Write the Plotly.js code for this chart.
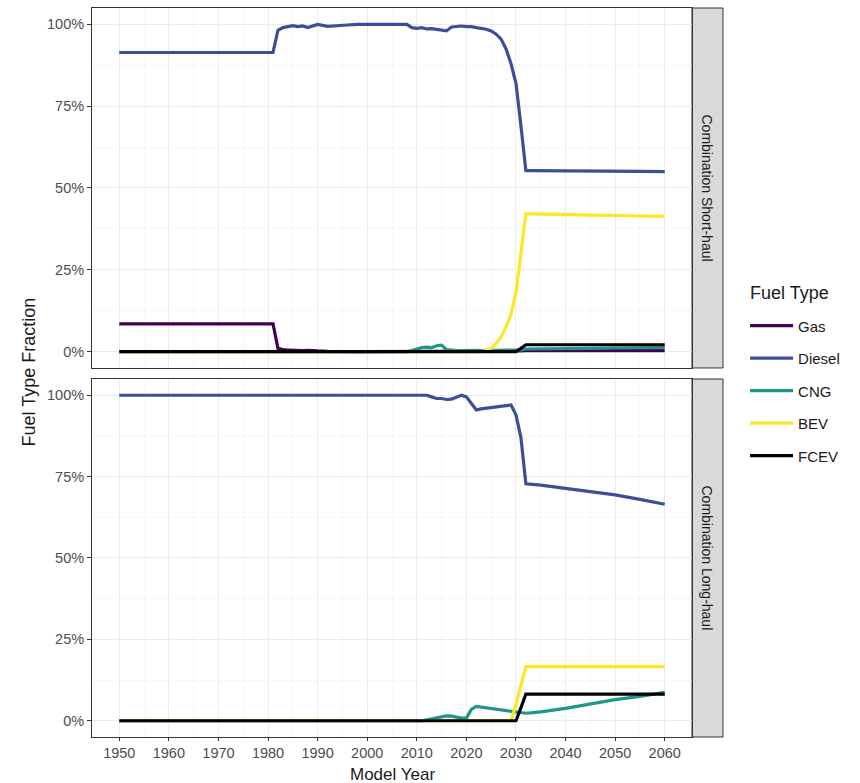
<!DOCTYPE html>
<html>
<head>
<meta charset="utf-8">
<script src="https://cdn.plot.ly/plotly-3.0.1.min.js"></script>
<style>html,body{margin:0;padding:0;background:#fff;}#chart{width:860px;height:783px;}</style>
</head>
<body>
<div id="chart"></div>
<script>
const years = [1950,1960,1970,1981,1982,1983,1984,1985,1986,1987,1988,1989,1990,1992,1994,1996,1998,2000,2002,2004,2006,2008,2009,2010,2011,2012,2013,2014,2015,2016,2017,2018,2019,2020,2021,2022,2023,2024,2025,2026,2027,2028,2029,2030,2031,2032,2033,2035,2040,2045,2050,2055,2060];

const fuelTypes = ["Gas","Diesel","CNG","BEV","FCEV"];
const panels = ["Combination Short-haul","Combination Long-haul"];

// Combination Short-haul
const shortGas    = [0.085,0.085,0.085,0.085,0.010,0.006,0.005,0.004,0.005,0.003,0.004,0.002,0.002,0.001,0,0,0,0,0,0,0,0,0,0,0,0,0,0,0,0,0,0,0,0,0,0,0,0,0,0,0,0,0,0,0.002,0.003,0.003,0.003,0.003,0.003,0.003,0.003,0.003];
const shortDiesel = [0.914,0.914,0.914,0.914,0.982,0.990,0.993,0.996,0.993,0.995,0.990,0.996,1.000,0.994,0.997,0.998,1.000,1.000,1.000,1.000,1.000,1.000,0.990,0.988,0.990,0.986,0.987,0.985,0.984,0.980,0.992,0.993,0.995,0.993,0.993,0.990,0.988,0.985,0.980,0.970,0.955,0.925,0.880,0.820,0.690,0.553,0.553,0.553,0.553,0.552,0.551,0.551,0.550];
const shortCNG    = [0,0,0,0,0,0,0,0,0,0,0,0,0,0,0,0,0,0,0,0,0,0,0.003,0.008,0.012,0.014,0.012,0.018,0.020,0.006,0.004,0.003,0.003,0.004,0.004,0.004,0.003,0.003,0.003,0.003,0.003,0.003,0.003,0.003,0.005,0.008,0.008,0.008,0.009,0.010,0.011,0.011,0.012];
const shortBEV    = [0,0,0,0,0,0,0,0,0,0,0,0,0,0,0,0,0,0,0,0,0,0,0,0,0,0,0,0,0,0,0,0,0,0,0,0,0,0.003,0.010,0.025,0.045,0.075,0.115,0.180,0.300,0.421,0.421,0.420,0.419,0.417,0.416,0.415,0.413];
const shortFCEV   = [0,0,0,0,0,0,0,0,0,0,0,0,0,0,0,0,0,0,0,0,0,0,0,0,0,0,0,0,0,0,0,0,0,0,0,0,0,0,0,0,0,0,0,0,0.010,0.021,0.021,0.021,0.021,0.021,0.021,0.021,0.021];

// Combination Long-haul (no gas line is visible in this panel)
const longDiesel  = [1,1,1,1,1,1,1,1,1,1,1,1,1,1,1,1,1,1,1,1,1,1,1,1,1,1,0.995,0.990,0.990,0.987,0.988,0.995,1.000,0.995,0.975,0.955,0.958,0.960,0.963,0.965,0.966,0.968,0.970,0.940,0.870,0.728,0.727,0.724,0.714,0.705,0.694,0.680,0.665];
const longCNG     = [0,0,0,0,0,0,0,0,0,0,0,0,0,0,0,0,0,0,0,0,0,0,0,0,0,0.003,0.006,0.010,0.012,0.015,0.014,0.010,0.008,0.008,0.035,0.044,0.042,0.040,0.036,0.034,0.032,0.030,0.029,0.027,0.025,0.023,0.024,0.027,0.038,0.052,0.065,0.075,0.087];
const longBEV     = [0,0,0,0,0,0,0,0,0,0,0,0,0,0,0,0,0,0,0,0,0,0,0,0,0,0,0,0,0,0,0,0,0,0,0,0,0,0,0,0,0,0,0,0.050,0.105,0.166,0.166,0.166,0.166,0.166,0.166,0.166,0.166];
const longFCEV    = [0,0,0,0,0,0,0,0,0,0,0,0,0,0,0,0,0,0,0,0,0,0,0,0,0,0,0,0,0,0,0,0,0,0,0,0,0,0,0,0,0,0,0,0,0.040,0.082,0.082,0.082,0.082,0.082,0.082,0.082,0.082];

const xTicks = [1950,1960,1970,1980,1990,2000,2010,2020,2030,2040,2050,2060];
const yTicks = [0,0.25,0.5,0.75,1];
const yTickText = ["0%","25%","50%","75%","100%"];

const colors = {Gas:"#440154",Diesel:"#3B4F99",CNG:"#1F968B",BEV:"#FDE725",FCEV:"#000000"};

const shortSeries = {Gas:shortGas,Diesel:shortDiesel,CNG:shortCNG,BEV:shortBEV,FCEV:shortFCEV};
const longSeries  = {Diesel:longDiesel,CNG:longCNG,BEV:longBEV,FCEV:longFCEV};

const traces = [];
fuelTypes.forEach(f => {
  traces.push({x:years,y:shortSeries[f],type:"scatter",mode:"lines",name:f,legendgroup:f,
    xaxis:"x2",yaxis:"y2",line:{color:colors[f],width:3.2},showlegend:true,hoverinfo:"x+y+name"});
});
fuelTypes.forEach(f => {
  if (!longSeries[f]) return;
  traces.push({x:years,y:longSeries[f],type:"scatter",mode:"lines",name:f,legendgroup:f,
    xaxis:"x",yaxis:"y",line:{color:colors[f],width:3.2},showlegend:false,hoverinfo:"x+y+name"});
});

const stripX0 = 600/631;
const topDom = [0.5062,1];
const botDom = [0,0.4911];
const tickFont = {family:"Liberation Sans, Arial, sans-serif",size:14.5,color:"#4d4d4d"};
const gridCol = "#ebebeb";

const xBase = {range:[1944.5,2065.5],domain:[0,stripX0],tickvals:xTicks,showgrid:true,gridcolor:gridCol,gridwidth:1,
  minor:{dtick:5,tick0:1945,showgrid:true,gridcolor:"#f4f4f4",gridwidth:0.6},
  showline:true,mirror:true,linecolor:"#333333",linewidth:1,zeroline:false,fixedrange:true};
const yBase = {range:[-0.05,1.05],tickvals:yTicks,ticktext:yTickText,showgrid:true,gridcolor:gridCol,gridwidth:1,
  minor:{dtick:0.125,tick0:0.125,showgrid:true,gridcolor:"#f4f4f4",gridwidth:0.6},
  ticks:"outside",ticklen:4,tickcolor:"#333333",tickfont:tickFont,
  showline:true,mirror:true,linecolor:"#333333",linewidth:1,zeroline:false,fixedrange:true};

const layout = {
  width:860,height:783,
  margin:{l:92,r:137,t:8,b:46},
  paper_bgcolor:"#ffffff",plot_bgcolor:"#ffffff",
  font:{family:"Liberation Sans, Arial, sans-serif",color:"#1a1a1a"},
  xaxis:Object.assign({},xBase,{anchor:"y",ticks:"outside",ticklen:3,tickcolor:"#333333",tickfont:tickFont,showticklabels:true}),
  xaxis2:Object.assign({},xBase,{anchor:"y2",matches:"x",ticks:"",showticklabels:false}),
  yaxis:Object.assign({},yBase,{domain:botDom,anchor:"x"}),
  yaxis2:Object.assign({},yBase,{domain:topDom,anchor:"x2"}),
  showlegend:true,
  legend:{x:1.035,xanchor:"left",y:0.5865,yanchor:"top",tracegroupgap:10,itemwidth:43,
    font:{size:15,color:"#1a1a1a"},bgcolor:"rgba(0,0,0,0)"},
  shapes:[
    {type:"rect",xref:"paper",yref:"paper",x0:stripX0,x1:1,y0:topDom[0],y1:topDom[1],fillcolor:"#d9d9d9",line:{color:"#333333",width:1},layer:"below"},
    {type:"rect",xref:"paper",yref:"paper",x0:stripX0,x1:1,y0:botDom[0],y1:botDom[1],fillcolor:"#d9d9d9",line:{color:"#333333",width:1},layer:"below"}
  ],
  annotations:[
    {text:panels[0],xref:"paper",yref:"paper",x:(stripX0+1)/2,y:(topDom[0]+topDom[1])/2,showarrow:false,textangle:90,font:{size:14,color:"#1a1a1a"},xanchor:"center",yanchor:"middle"},
    {text:panels[1],xref:"paper",yref:"paper",x:(stripX0+1)/2,y:(botDom[0]+botDom[1])/2,showarrow:false,textangle:90,font:{size:14,color:"#1a1a1a"},xanchor:"center",yanchor:"middle"},
    {text:"Model Year",xref:"paper",yref:"paper",x:stripX0/2,y:0,yshift:-37,showarrow:false,font:{size:17,color:"#1a1a1a"},xanchor:"center",yanchor:"middle"},
    {text:"Fuel Type Fraction",xref:"paper",yref:"paper",x:0,xshift:-64,y:0.5,showarrow:false,textangle:-90,font:{size:18,color:"#1a1a1a"},xanchor:"center",yanchor:"middle"},
    {text:"Fuel Type",xref:"paper",yref:"paper",x:1.035,xshift:3,y:0.609,showarrow:false,font:{size:18,color:"#1a1a1a"},xanchor:"left",yanchor:"middle"}
  ]
};

Plotly.newPlot("chart",traces,layout,{displayModeBar:false,staticPlot:true});
</script>
</body>
</html>
